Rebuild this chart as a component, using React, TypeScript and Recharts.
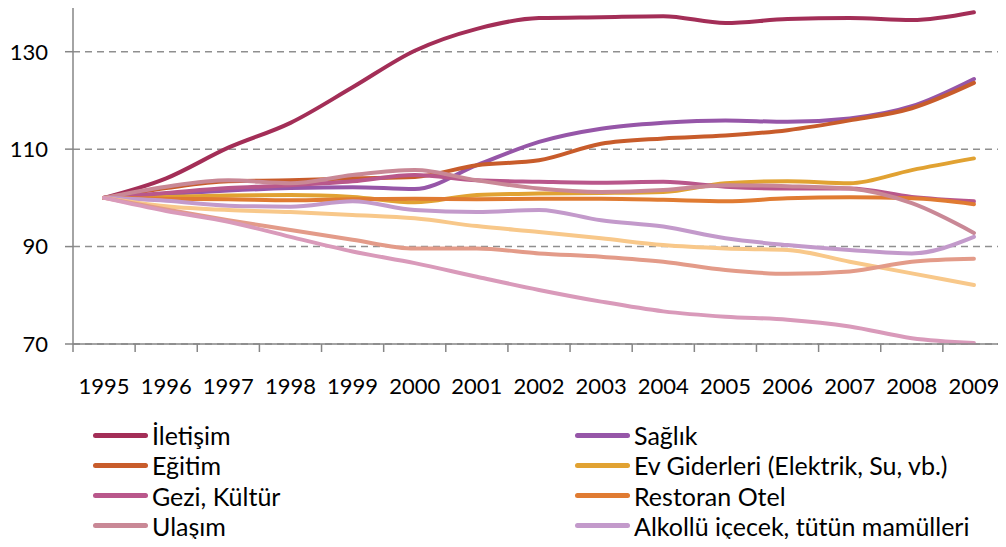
import React from "react";
import { LineChart, Line, XAxis, YAxis, CartesianGrid } from "recharts";

const years = ["1995", "1996", "1997", "1998", "1999", "2000", "2001", "2002", "2003", "2004", "2005", "2006", "2007", "2008", "2009"];

const iletisim = [100, 104, 110.3, 115.4, 122.7, 130.2, 134.7, 136.9, 137.1, 137.3, 135.9, 136.7, 136.9, 136.5, 138.1];
const saglik = [100, 100.8, 101.5, 102, 102.2, 101.8, 106.7, 111.5, 114.2, 115.4, 115.9, 115.6, 116.3, 118.8, 124.4];
const egitim = [100, 102, 103.4, 103.6, 104, 104.3, 106.7, 107.7, 111.1, 112.2, 112.8, 113.9, 115.9, 118.4, 123.6];
const evGiderleri = [100, 100.2, 100.5, 100.6, 100.2, 99.1, 100.6, 100.9, 101, 101.2, 103, 103.4, 103, 105.7, 108.1];
const gezi = [100, 101, 102, 102.6, 103.4, 104.7, 103.6, 103.3, 103.1, 103.3, 102.3, 101.9, 101.9, 100.2, 99.3];
const restoran = [100, 99.8, 99.7, 99.5, 99.7, 99.8, 99.7, 99.8, 99.8, 99.6, 99.3, 99.9, 100.1, 99.9, 98.7];
const ulasim = [100, 102.3, 103.6, 103, 104.7, 105.7, 103.6, 101.9, 101.2, 101.6, 102.6, 102.4, 101.9, 98.9, 92.8];
const alkollu = [100, 99.4, 98.4, 98.2, 99.3, 97.5, 97.1, 97.5, 95.4, 94.1, 91.7, 90.3, 89.3, 88.6, 92];
// three more series are drawn but are cut out of the legend
const diger1 = [100, 98.3, 97.5, 97.1, 96.5, 95.8, 94.2, 93, 91.7, 90.3, 89.6, 89.3, 86.9, 84.5, 82.1];
const diger2 = [100, 97.6, 95.4, 93.4, 91.4, 89.6, 89.6, 88.6, 87.9, 86.9, 85.2, 84.4, 84.9, 86.9, 87.5];
const diger3 = [100, 97.3, 95.1, 92, 89, 86.6, 83.8, 81.1, 78.7, 76.7, 75.6, 75, 73.6, 71.2, 70.2];

const yTicks = [70, 90, 110, 130];

const series = [
  { key: "iletisim", name: "İletişim", values: iletisim, color: "#A32E57", legend: true },
  { key: "saglik", name: "Sağlık", values: saglik, color: "#9656A8", legend: true },
  { key: "egitim", name: "Eğitim", values: egitim, color: "#C85C2B", legend: true },
  { key: "evGiderleri", name: "Ev Giderleri (Elektrik, Su, vb.)", values: evGiderleri, color: "#E1A232", legend: true },
  { key: "gezi", name: "Gezi, Kültür", values: gezi, color: "#B9578B", legend: true },
  { key: "restoran", name: "Restoran Otel", values: restoran, color: "#E07B32", legend: true },
  { key: "ulasim", name: "Ulaşım", values: ulasim, color: "#C98896", legend: true },
  { key: "alkollu", name: "Alkollü içecek, tütün mamülleri", values: alkollu, color: "#C39ACB", legend: true },
  { key: "diger1", name: "diger1", values: diger1, color: "#F8C88A", legend: false },
  { key: "diger2", name: "diger2", values: diger2, color: "#E39B89", legend: false },
  { key: "diger3", name: "diger3", values: diger3, color: "#D99ABA", legend: false },
];

const data = years.map((year, i) => {
  const row: Record<string, string | number> = { year };
  series.forEach((s) => {
    row[s.key] = s.values[i];
  });
  return row;
});

const FONT = "Lato, 'Open Sans', sans-serif";
const CHART_W = 1006;
const CHART_H = 400;
const Y_W = 73;
const RIGHT = 1;
const STEP = (CHART_W - Y_W - RIGHT) / years.length;

function XTick(props: any) {
  const { x, y, payload, index } = props;
  const half = STEP / 2;
  return (
    <g>
      <line x1={x - half} x2={x - half} y1={y - 8} y2={y} stroke="#868686" strokeWidth={1.5} />
      {index === years.length - 1 && (
        <line x1={x + half} x2={x + half} y1={y - 8} y2={y} stroke="#868686" strokeWidth={1.5} />
      )}
      <text x={x} y={y} dy={42} textAnchor="middle" fill="#000" fontSize={22} fontFamily={FONT}>
        {payload.value}
      </text>
    </g>
  );
}

function LegendBlock() {
  const items = series.filter((s) => s.legend);
  const left = items.filter((_, i) => i % 2 === 0);
  const right = items.filter((_, i) => i % 2 === 1);
  const col = (list: typeof items, x: number) =>
    list.map((s, i) => (
      <div
        key={s.key}
        style={{ position: "absolute", left: x, top: 420 + i * 30.3, height: 30, display: "flex", alignItems: "center" }}
      >
        <span style={{ display: "inline-block", width: 55, height: 5, borderRadius: 3, background: s.color, marginRight: 4 }} />
        <span style={{ fontFamily: FONT, fontSize: 25, color: "#000", whiteSpace: "nowrap" }}>{s.name}</span>
      </div>
    ));
  return (
    <>
      {col(left, 93)}
      {col(right, 575)}
    </>
  );
}

export default function App() {
  return (
    <div style={{ position: "relative", width: 1006, height: 547, margin: "-8px", background: "#fff", overflow: "hidden" }}>
      <LineChart width={CHART_W} height={CHART_H} data={data} margin={{ top: 3, right: RIGHT, left: 0, bottom: 0 }}>
        <CartesianGrid vertical={false} stroke="#8f8f8f" strokeWidth={1.5} strokeDasharray="7 5" />
        <XAxis
          dataKey="year"
          height={56}
          padding={{ left: STEP / 2, right: STEP / 2 }}
          axisLine={{ stroke: "#868686", strokeWidth: 1.5 }}
          tickLine={false}
          tickSize={8}
          tickMargin={0}
          interval={0}
          tick={<XTick />}
        />
        <YAxis
          width={Y_W}
          domain={[70, 140]}
          ticks={yTicks}
          axisLine={{ stroke: "#868686", strokeWidth: 1.5 }}
          tickLine={{ stroke: "#868686", strokeWidth: 1.5 }}
          tickSize={8}
          tickMargin={17}
          tick={{ fill: "#000", fontSize: 22, fontFamily: FONT }}
        />
        {series.map((s) => (
          <Line
            key={s.key}
            type="monotone"
            dataKey={s.key}
            name={s.name}
            stroke={s.color}
            strokeWidth={4}
            strokeLinecap="round"
            dot={false}
            activeDot={false}
            isAnimationActive={false}
          />
        ))}
      </LineChart>
      <LegendBlock />
    </div>
  );
}
